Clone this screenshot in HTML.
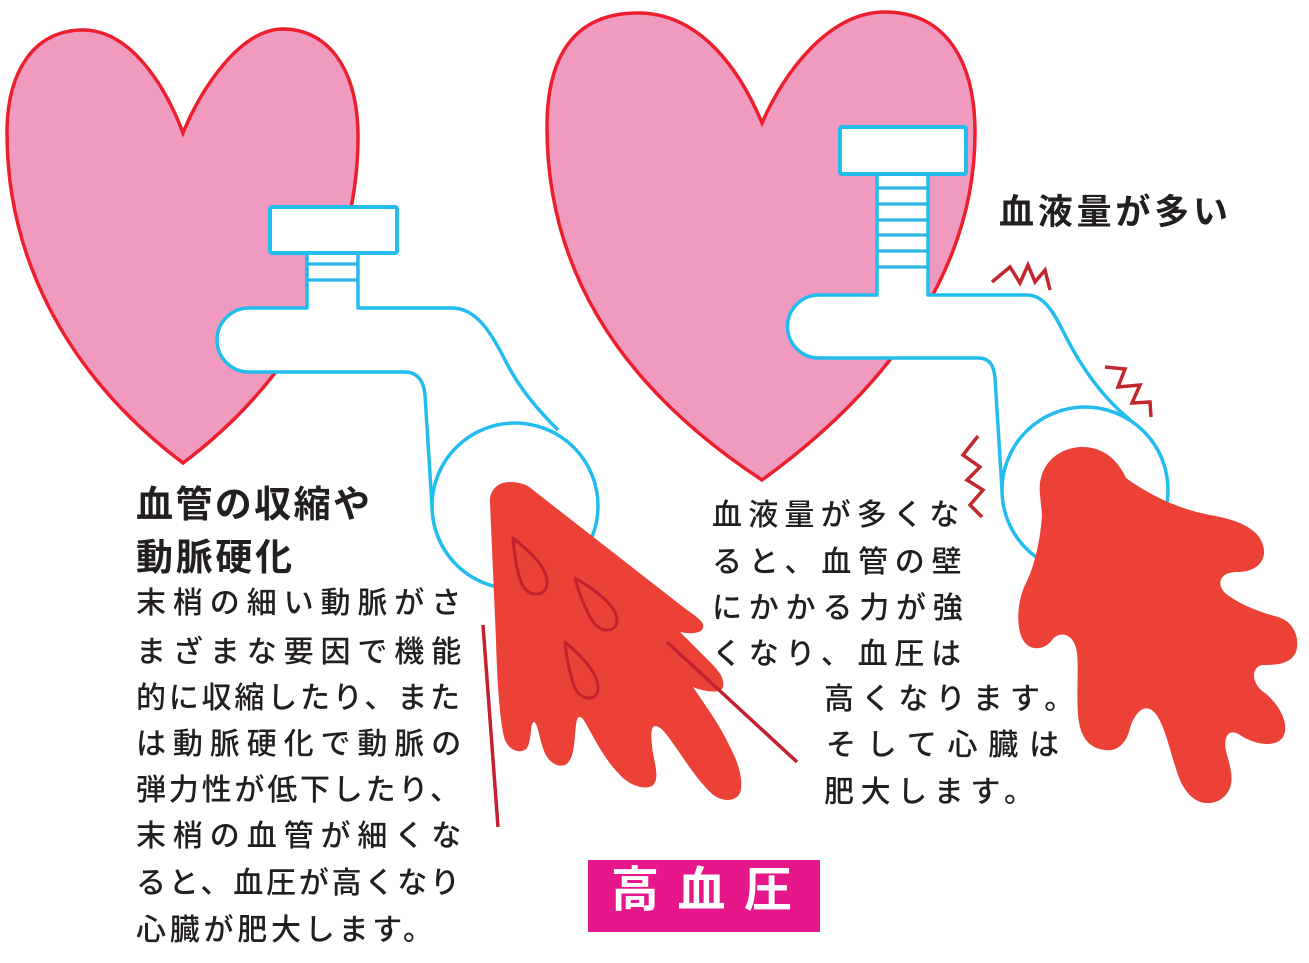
<!DOCTYPE html>
<html lang="ja">
<head>
<meta charset="utf-8">
<style>
  html, body { margin: 0; padding: 0; background: #ffffff; }
  body { width: 1309px; height: 963px; position: relative; overflow: hidden; }
  svg { position: absolute; left: 0; top: 0; }
  .t { position: absolute; white-space: nowrap; color: #231f20;
       font-family: "Liberation Sans", "Noto Sans CJK JP", sans-serif; line-height: 1; }
  .b30 { font-size: 30px; font-weight: 500; }
  .h37 { font-size: 37px; font-weight: 700; letter-spacing: 2.4px; }
  .h35 { font-size: 35px; font-weight: 700; letter-spacing: 3.8px; }
  .lbl { position: absolute; left: 588px; top: 860px; width: 232px; height: 72px; background: #e5178b; }
  .lblt { position: absolute; white-space: nowrap; color: #ffffff; font-size: 48px; font-weight: 700;
          letter-spacing: 18.5px; line-height: 1;
          font-family: "Liberation Sans", "Noto Sans CJK JP", sans-serif; }
</style>
</head>
<body>
<svg width="1309" height="963" viewBox="0 0 1309 963" xmlns="http://www.w3.org/2000/svg">
  <!-- hearts -->
  <path d="M183,133 C165,85 130,30 83,30 C35,30 7,70 7,133 C7,250 60,370 183,463 C300,375 358,255 358,137 C358,65 325,29 283,29 C240,29 200,90 183,133 Z"
        fill="#f19ac0" stroke="#ec1f2d" stroke-width="3.5" stroke-linejoin="miter"/>
  <path d="M762,123 C740,70 700,13 638,13 C575,13 547,55 547,127 C547,260 610,380 762,480 C900,380 975,260 975,133 C975,60 945,12 885,12 C830,12 785,70 762,123 Z"
        fill="#f19ac0" stroke="#ec1f2d" stroke-width="3.5" stroke-linejoin="miter"/>

  <!-- left faucet -->
  <path d="M307,308 L249,308 A32,32 0 0 0 249,372 L405,372 C418,372 424,382 425,395 L432,506 L558,430 C540,412 520,390 505,360 C490,330 475,308 452,308 Z" fill="#ffffff"/>
  <rect x="307" y="253" width="51" height="56" fill="#ffffff"/>
  <circle cx="515" cy="506" r="83" fill="#ffffff" stroke="#22bcee" stroke-width="3.5"/>
  <path d="M307,253 L307,308 L249,308 A32,32 0 0 0 249,372 L405,372 C418,372 424,382 425,395 L432,506"
        fill="none" stroke="#22bcee" stroke-width="3.5" stroke-linejoin="round"/>
  <path d="M358,253 L358,308 L452,308 C475,308 490,330 505,360 C520,390 540,412 558,430"
        fill="none" stroke="#22bcee" stroke-width="3.5" stroke-linejoin="round"/>
  <path d="M307,264 H358 M307,280 H358" stroke="#2cb6e6" stroke-width="3.2"/>
  <rect x="270" y="207" width="127" height="46" rx="2" fill="#ffffff" stroke="#22bcee" stroke-width="4"/>

  <!-- right faucet -->
  <path d="M877,295 L819,295 A31.5,31.5 0 0 0 819,358 L978,358 C990,358 994,366 995,378 L1002,490 L1130,420 C1100,395 1080,365 1065,335 C1055,315 1045,295 1027,295 Z" fill="#ffffff"/>
  <rect x="877" y="174" width="51" height="122" fill="#ffffff"/>
  <circle cx="1085" cy="490" r="83" fill="#ffffff" stroke="#22bcee" stroke-width="3.5"/>
  <path d="M877,174 L877,295 L819,295 A31.5,31.5 0 0 0 819,358 L978,358 C990,358 994,366 995,378 L1002,490"
        fill="none" stroke="#22bcee" stroke-width="3.5" stroke-linejoin="round"/>
  <path d="M928,174 L928,295 L1027,295 C1045,295 1055,315 1065,335 C1080,365 1100,395 1130,420"
        fill="none" stroke="#22bcee" stroke-width="3.5" stroke-linejoin="round"/>
  <path d="M877,188 H928 M877,204 H928 M877,220 H928 M877,235 H928 M877,251 H928 M877,267 H928"
        stroke="#2cb6e6" stroke-width="3.2"/>
  <rect x="840" y="127" width="126" height="47" rx="2" fill="#ffffff" stroke="#22bcee" stroke-width="4"/>

  <!-- left splash -->
  <path d="M490,503 C489,490 498,482 510,482 C520,482 528,485 533,490 L687,610 C697,617 705,622 703,628 C701,634 690,634 680,632 C690,642 700,652 710,662 C718,670 725,678 723,687 C721,694 705,692 693,687 C705,705 720,725 730,747 C738,762 744,780 740,793 C735,803 720,802 710,792 C695,777 685,760 672,742 C665,732 660,726 655,726 C650,726 651,740 653,753 C655,765 660,780 652,786 C645,790 630,786 620,775 C605,760 595,740 585,722 C580,714 577,716 576,725 C574,740 575,760 565,765 C555,768 546,760 542,745 C539,735 537,722 534,722 C530,722 532,740 527,748 C522,754 510,752 505,740 C500,725 497,680 496,640 Z"
        fill="#eb4137"/>
  <!-- drops -->
  <g fill="none" stroke="#c4202f" stroke-width="3" stroke-linejoin="round">
    <path d="M513,538 C525,548 547,565 547,582 C547,592 541,594 536,594 C528,594 522,588 519,576 C516,565 514,550 513,538 Z"/>
    <path d="M575,578 C592,588 617,605 617,620 C617,628 612,630 607,630 C600,630 594,625 589,615 C583,603 578,590 575,578 Z"/>
    <path d="M565,642 C580,655 598,672 598,688 C598,695 594,698 589,698 C582,698 576,693 573,683 C569,670 566,655 565,642 Z"/>
  </g>
  <!-- red lines -->
  <path d="M483,625 L498,827" stroke="#c4202f" stroke-width="3.5"/>
  <path d="M667,642 L797,762" stroke="#c4202f" stroke-width="3.5"/>

  <!-- right splash -->
  <path d="M1040,495 C1037,465 1058,447 1083,447 C1103,447 1118,460 1126,478 C1150,495 1175,508 1210,515 C1240,520 1262,530 1264,550 C1265,565 1252,572 1237,572 C1222,572 1215,582 1225,593 C1240,605 1260,612 1278,617 C1295,622 1300,640 1296,652 C1290,665 1275,665 1262,665 C1250,668 1252,685 1265,693 C1280,705 1290,725 1283,737 C1276,748 1255,745 1240,735 C1228,727 1222,738 1227,755 C1233,775 1235,790 1220,800 C1200,810 1185,795 1178,775 C1170,752 1165,725 1155,713 C1145,702 1135,712 1130,728 C1127,742 1118,752 1105,750 C1087,748 1080,735 1078,715 C1076,690 1080,655 1075,645 C1070,632 1058,632 1052,640 C1045,650 1030,652 1023,640 C1015,625 1018,600 1025,585 C1033,570 1040,545 1042,515 Z"
        fill="#eb4137"/>

  <!-- zigzags -->
  <g fill="none" stroke="#c1272d" stroke-width="3.5" stroke-linejoin="miter" stroke-miterlimit="10">
    <path d="M992,282 L1010,267 L1020,283 L1028,265 L1035,282 L1045,270 L1050,290"/>
    <path d="M1105,367 L1125,369 L1118,387 L1140,385 L1132,403 L1150,402 L1151,417"/>
    <path d="M978,436 L963,455 L980,467 L967,480 L983,490 L970,505 L982,517"/>
  </g>
</svg>

<!-- right top label -->
<div class="t h35" style="left:999px; top:194.5px;">血液量が多い</div>

<!-- left title -->
<div class="t h37" style="left:136px; top:486.4px;">血管の収縮や</div>
<div class="t h37" style="left:136px; top:539.4px; letter-spacing:2.7px;">動脈硬化</div>

<!-- left body -->
<div class="t b30" style="left:136px; top:589.3px; letter-spacing:6.9px;">末梢の細い動脈がさ</div>
<div class="t b30" style="left:136px; top:638.3px; letter-spacing:6.9px;">まざまな要因で機能</div>
<div class="t b30" style="left:136px; top:684.3px; letter-spacing:2.8px;">的に収縮したり、また</div>
<div class="t b30" style="left:136px; top:730.3px; letter-spacing:6.9px;">は動脈硬化で動脈の</div>
<div class="t b30" style="left:136px; top:776.3px; letter-spacing:2.8px;">弾力性が低下したり、</div>
<div class="t b30" style="left:136px; top:822.3px; letter-spacing:6.9px;">末梢の血管が細くな</div>
<div class="t b30" style="left:136px; top:869.3px; letter-spacing:2.8px;">ると、血圧が高くなり</div>
<div class="t b30" style="left:136px; top:916.3px; letter-spacing:3.75px;">心臓が肥大します。</div>

<!-- right body -->
<div class="t b30" style="left:712px; top:501.3px; letter-spacing:6.2px;">血液量が多くな</div>
<div class="t b30" style="left:712px; top:548.3px; letter-spacing:6.8px;">ると、血管の壁</div>
<div class="t b30" style="left:712px; top:594.3px; letter-spacing:6.8px;">にかかる力が強</div>
<div class="t b30" style="left:712px; top:640.3px; letter-spacing:6.7px;">くなり、血圧は</div>
<div class="t b30" style="left:824px; top:685.3px; letter-spacing:7.2px;">高くなります。</div>
<div class="t b30" style="left:826px; top:731.3px; letter-spacing:10.8px;">そして心臓は</div>
<div class="t b30" style="left:824px; top:778.3px; letter-spacing:6.6px;">肥大します。</div>

<!-- pink label -->
<div class="lbl"></div>
<div class="lblt" style="left:611px; top:867.3px;">高血圧</div>
</body>
</html>
